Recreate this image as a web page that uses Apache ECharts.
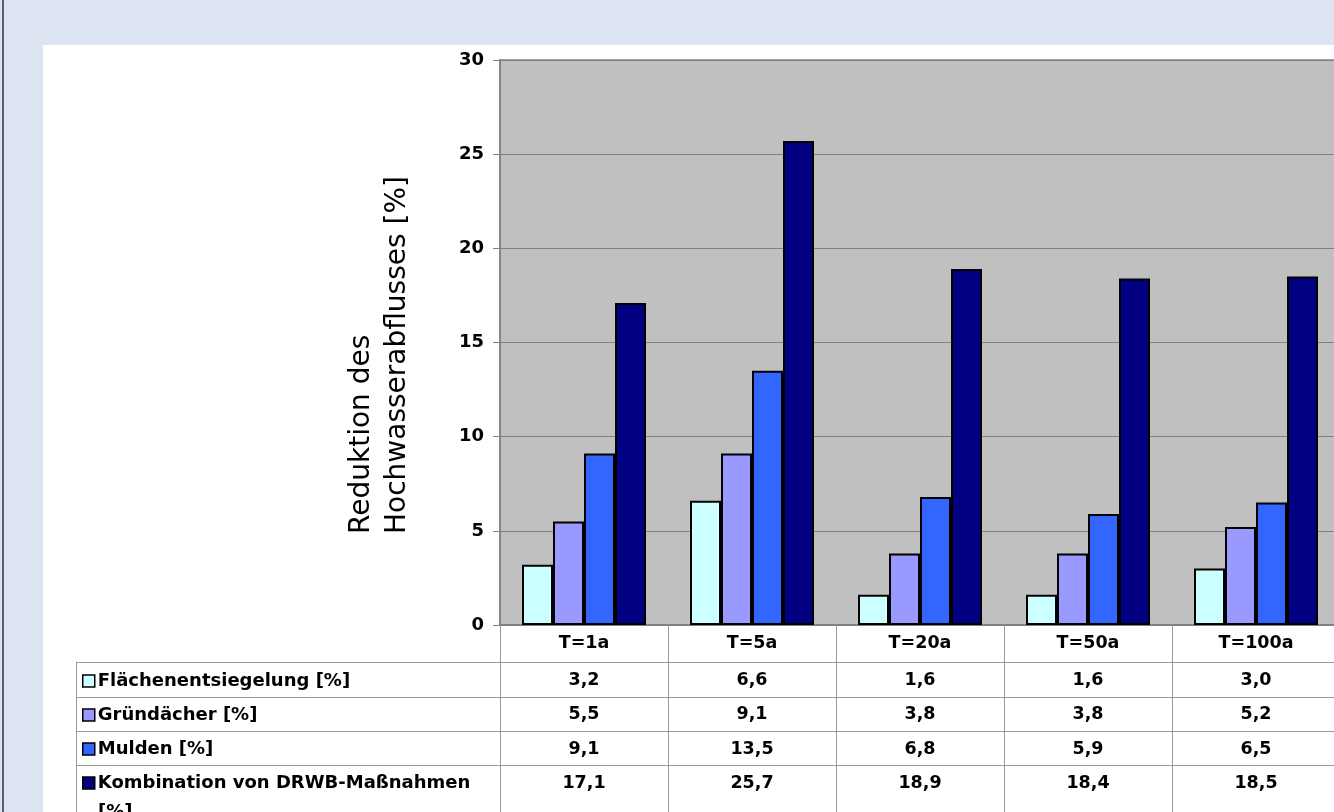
<!DOCTYPE html>
<html>
<head>
<meta charset="utf-8">
<script src="https://cdn.jsdelivr.net/npm/echarts@6/dist/echarts.min.js"></script>
<style>
  html,body{margin:0;padding:0;width:1334px;height:812px;overflow:hidden;background:#DCE3F1;position:relative;}
  #edge{position:absolute;left:2px;top:0;width:2px;height:812px;background:#5A6070;}
  #panel{position:absolute;left:43px;top:45px;width:1291px;height:767px;background:#fff;}
  #chart{position:absolute;left:0;top:0;width:1344px;height:812px;}
</style>
</head>
<body>
<div id="edge"></div>
<div id="panel"></div>
<div id="chart"></div>
<script>
const categories = ['T=1a', 'T=5a', 'T=20a', 'T=50a', 'T=100a'];
const seriesNames = ['Flächenentsiegelung [%]', 'Gründächer [%]', 'Mulden [%]', 'Kombination von DRWB-Maßnahmen [%]'];
const flaechen = [3.2, 6.6, 1.6, 1.6, 3.0];
const gruendaecher = [5.5, 9.1, 3.8, 3.8, 5.2];
const mulden = [9.1, 13.5, 6.8, 5.9, 6.5];
const kombination = [17.1, 25.7, 18.9, 18.4, 18.5];
const yTicks = {min: 0, max: 30, interval: 5};
const colors = ['#CCFFFF', '#9999FF', '#3366FF', '#000080'];

const FONT = "'DejaVu Sans', 'Liberation Sans', Arial, sans-serif";
const allSeries = [flaechen, gruendaecher, mulden, kombination];
const fmt = v => v.toFixed(1).replace('.', ',');
const rowOffsets = [37, 71.5, 106, 140];
const LBL = {color: '#000', fontWeight: 'bold', fontSize: 17.5, fontFamily: FONT};

const chart = echarts.init(document.getElementById('chart'), null, {renderer: 'canvas'});

const xAxes = [{
  type: 'category', data: categories, gridIndex: 0, position: 'bottom',
  axisLine: {show: true, lineStyle: {color: '#808080', width: 2}},
  axisTick: {show: true, length: 190, interval: 0, lineStyle: {color: '#9a9a9a', width: 1}},
  axisLabel: Object.assign({show: true, interval: 0, margin: 9}, LBL),
  splitLine: {show: false}
}];
allSeries.forEach((arr, k) => {
  xAxes.push({
    type: 'category', data: categories, gridIndex: 0, position: 'bottom', offset: rowOffsets[k],
    axisLine: {show: false}, axisTick: {show: false}, splitLine: {show: false},
    axisLabel: Object.assign({show: true, interval: 0, margin: 9, formatter: (v, i) => fmt(arr[i])}, LBL)
  });
});

const option = {
  animation: false,
  backgroundColor: 'transparent',
  textStyle: {fontFamily: FONT},
  grid: {left: 500, top: 60, width: 840, height: 565, show: true, backgroundColor: '#C0C0C0', borderColor: '#808080', borderWidth: 1.5, containLabel: false},
  legend: {
    orient: 'vertical', left: 82, top: 671, padding: 0, itemWidth: 12, itemHeight: 12, itemGap: 14,
    icon: 'rect', selectedMode: false,
    data: seriesNames,
    formatter: n => n.indexOf('Kombination') === 0 ? n.replace(' [%]', '') : n,
    textStyle: {color: '#000', fontWeight: 'bold', fontSize: 18, fontFamily: FONT, lineHeight: 20, padding: [0, 0, 0, -2]},
    itemStyle: {borderColor: '#000', borderWidth: 1.5}
  },
  xAxis: xAxes,
  yAxis: {
    type: 'value', min: yTicks.min, max: yTicks.max, interval: yTicks.interval,
    axisLine: {show: true, lineStyle: {color: '#808080', width: 1.5}},
    axisTick: {show: true, length: 7, lineStyle: {color: '#808080'}},
    axisLabel: Object.assign({margin: 16}, LBL, {fontSize: 18}),
    splitLine: {show: true, lineStyle: {color: '#808080', width: 1}}
  },
  series: allSeries.map((arr, k) => ({
    name: seriesNames[k], type: 'bar', data: arr, xAxisIndex: 0,
    barWidth: 31, barGap: '0%',
    itemStyle: {color: colors[k], borderColor: '#000', borderWidth: 2}
  })),
  graphic: []
};
chart.setOption(option);

const g = [];
[662, 697, 731, 765].forEach(y => {
  g.push({type: 'line', shape: {x1: 76, y1: y + 0.5, x2: 1344, y2: y + 0.5}, style: {stroke: '#9a9a9a', lineWidth: 1}, silent: true});
});
g.push({type: 'line', shape: {x1: 76.5, y1: 662, x2: 76.5, y2: 812}, style: {stroke: '#9a9a9a', lineWidth: 1}, silent: true});
g.push({type: 'text', left: 98, top: 803, style: {text: '[%]', fill: '#000', font: 'bold 18px ' + FONT}, silent: true});
g.push({type: 'text', x: 380, y: 534, rotation: Math.PI / 2,
  style: {text: 'Reduktion des\nHochwasserabflusses [%]', fill: '#000', font: '28px ' + FONT, align: 'left', verticalAlign: 'middle', lineHeight: 36}, silent: true});
chart.setOption({graphic: g});
</script>
</body>
</html>
